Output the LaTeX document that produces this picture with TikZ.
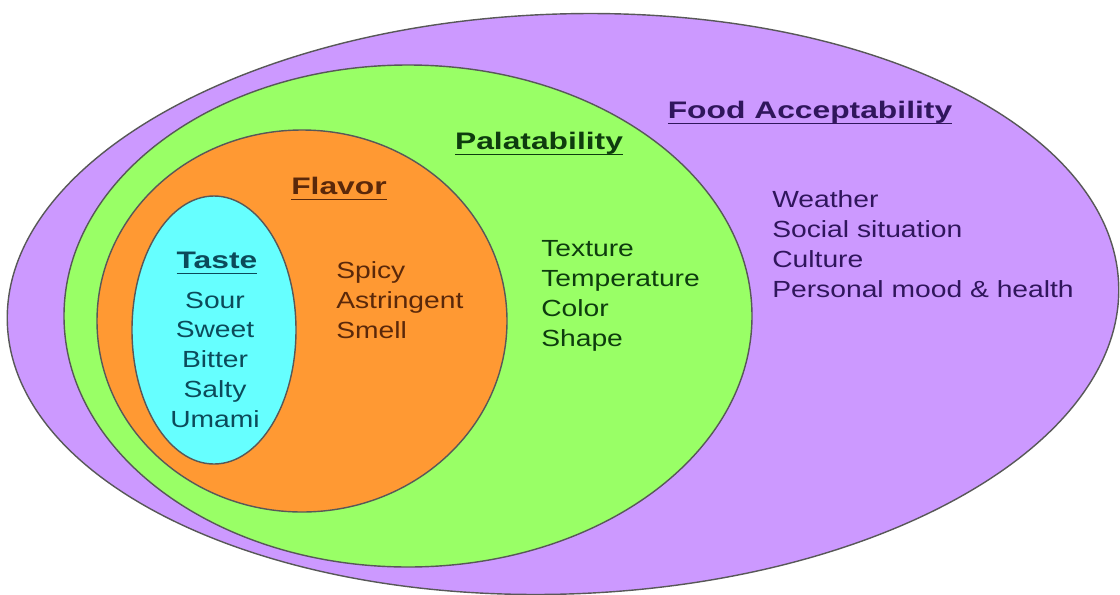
\documentclass[tikz,border=0pt]{standalone}
\usepackage{fontspec}
\setmainfont{Liberation Sans}[FakeStretch=1.21]
\newfontfamily\headfamily{Liberation Sans}[FakeStretch=1.33]
\definecolor{cAccept}{RGB}{204,153,255}
\definecolor{cPalat}{RGB}{153,255,102}
\definecolor{cFlavor}{RGB}{255,153,51}
\definecolor{cTaste}{RGB}{102,255,255}
\definecolor{tAccept}{RGB}{48,22,92}
\definecolor{tPalat}{RGB}{14,60,14}
\definecolor{tFlavor}{RGB}{90,40,10}
\definecolor{tTaste}{RGB}{12,74,90}
\definecolor{cEdge}{RGB}{88,88,88}
% heading underline at a fixed depth below the baseline
\newcommand{\headul}[1]{\setbox0=\hbox{#1}\rlap{\rule[-0.26em]{\wd0}{0.07em}}\box0}
\tikzset{
  ring/.style={draw=cEdge, line width=1pt},
  title/.style={font=\headfamily\bfseries\fontsize{17}{20}\selectfont, inner sep=0pt, anchor=base},
  items/.style={font=\fontsize{16.6}{21.1}\selectfont, inner sep=0pt, anchor=base west, align=left},
  itemsC/.style={items, anchor=base, align=center},
}

\begin{document}
\begin{tikzpicture}[x=0.025cm, y=-0.025cm]
\useasboundingbox (0,0) rectangle (1120,594);

% ===== nested ellipses =====
\filldraw[ring, fill=cAccept, rotate around={2:(563,304)}]
  (563,304) ellipse [x radius=556, y radius=290];
\filldraw[ring, fill=cPalat] (408,316) ellipse [x radius=344, y radius=251];
\filldraw[ring, fill=cFlavor] (302,321) ellipse [x radius=205, y radius=191];
\filldraw[ring, fill=cTaste] (214,330) ellipse [x radius=82, y radius=134];

% ===== headings =====
\node[title, text=tAccept] (accept) at (810,118) {\headul{Food Acceptability}};
\node[title, text=tPalat] (palat) at (539,149) {\headul{Palatability}};
\node[title, text=tFlavor] (flavor) at (339,194) {\headul{Flavor}};
\node[title, text=tTaste] (taste) at (217,268) {\headul{Taste}};

% ===== factor lists (anchored on the last line) =====
\node[items, text=tAccept] (acceptList) at (772,297)
  {Weather\\Social situation\\Culture\\Personal mood \& health};
\node[items, text=tPalat] (palatList) at (541,346)
  {Texture\\Temperature\\Color\\Shape};
\node[items, text=tFlavor] (flavorList) at (336,338)
  {Spicy\\Astringent\\Smell};
\node[itemsC, text=tTaste] (tasteList) at (215,427)
  {Sour\\Sweet\\Bitter\\Salty\\Umami};

\end{tikzpicture}
\end{document}
